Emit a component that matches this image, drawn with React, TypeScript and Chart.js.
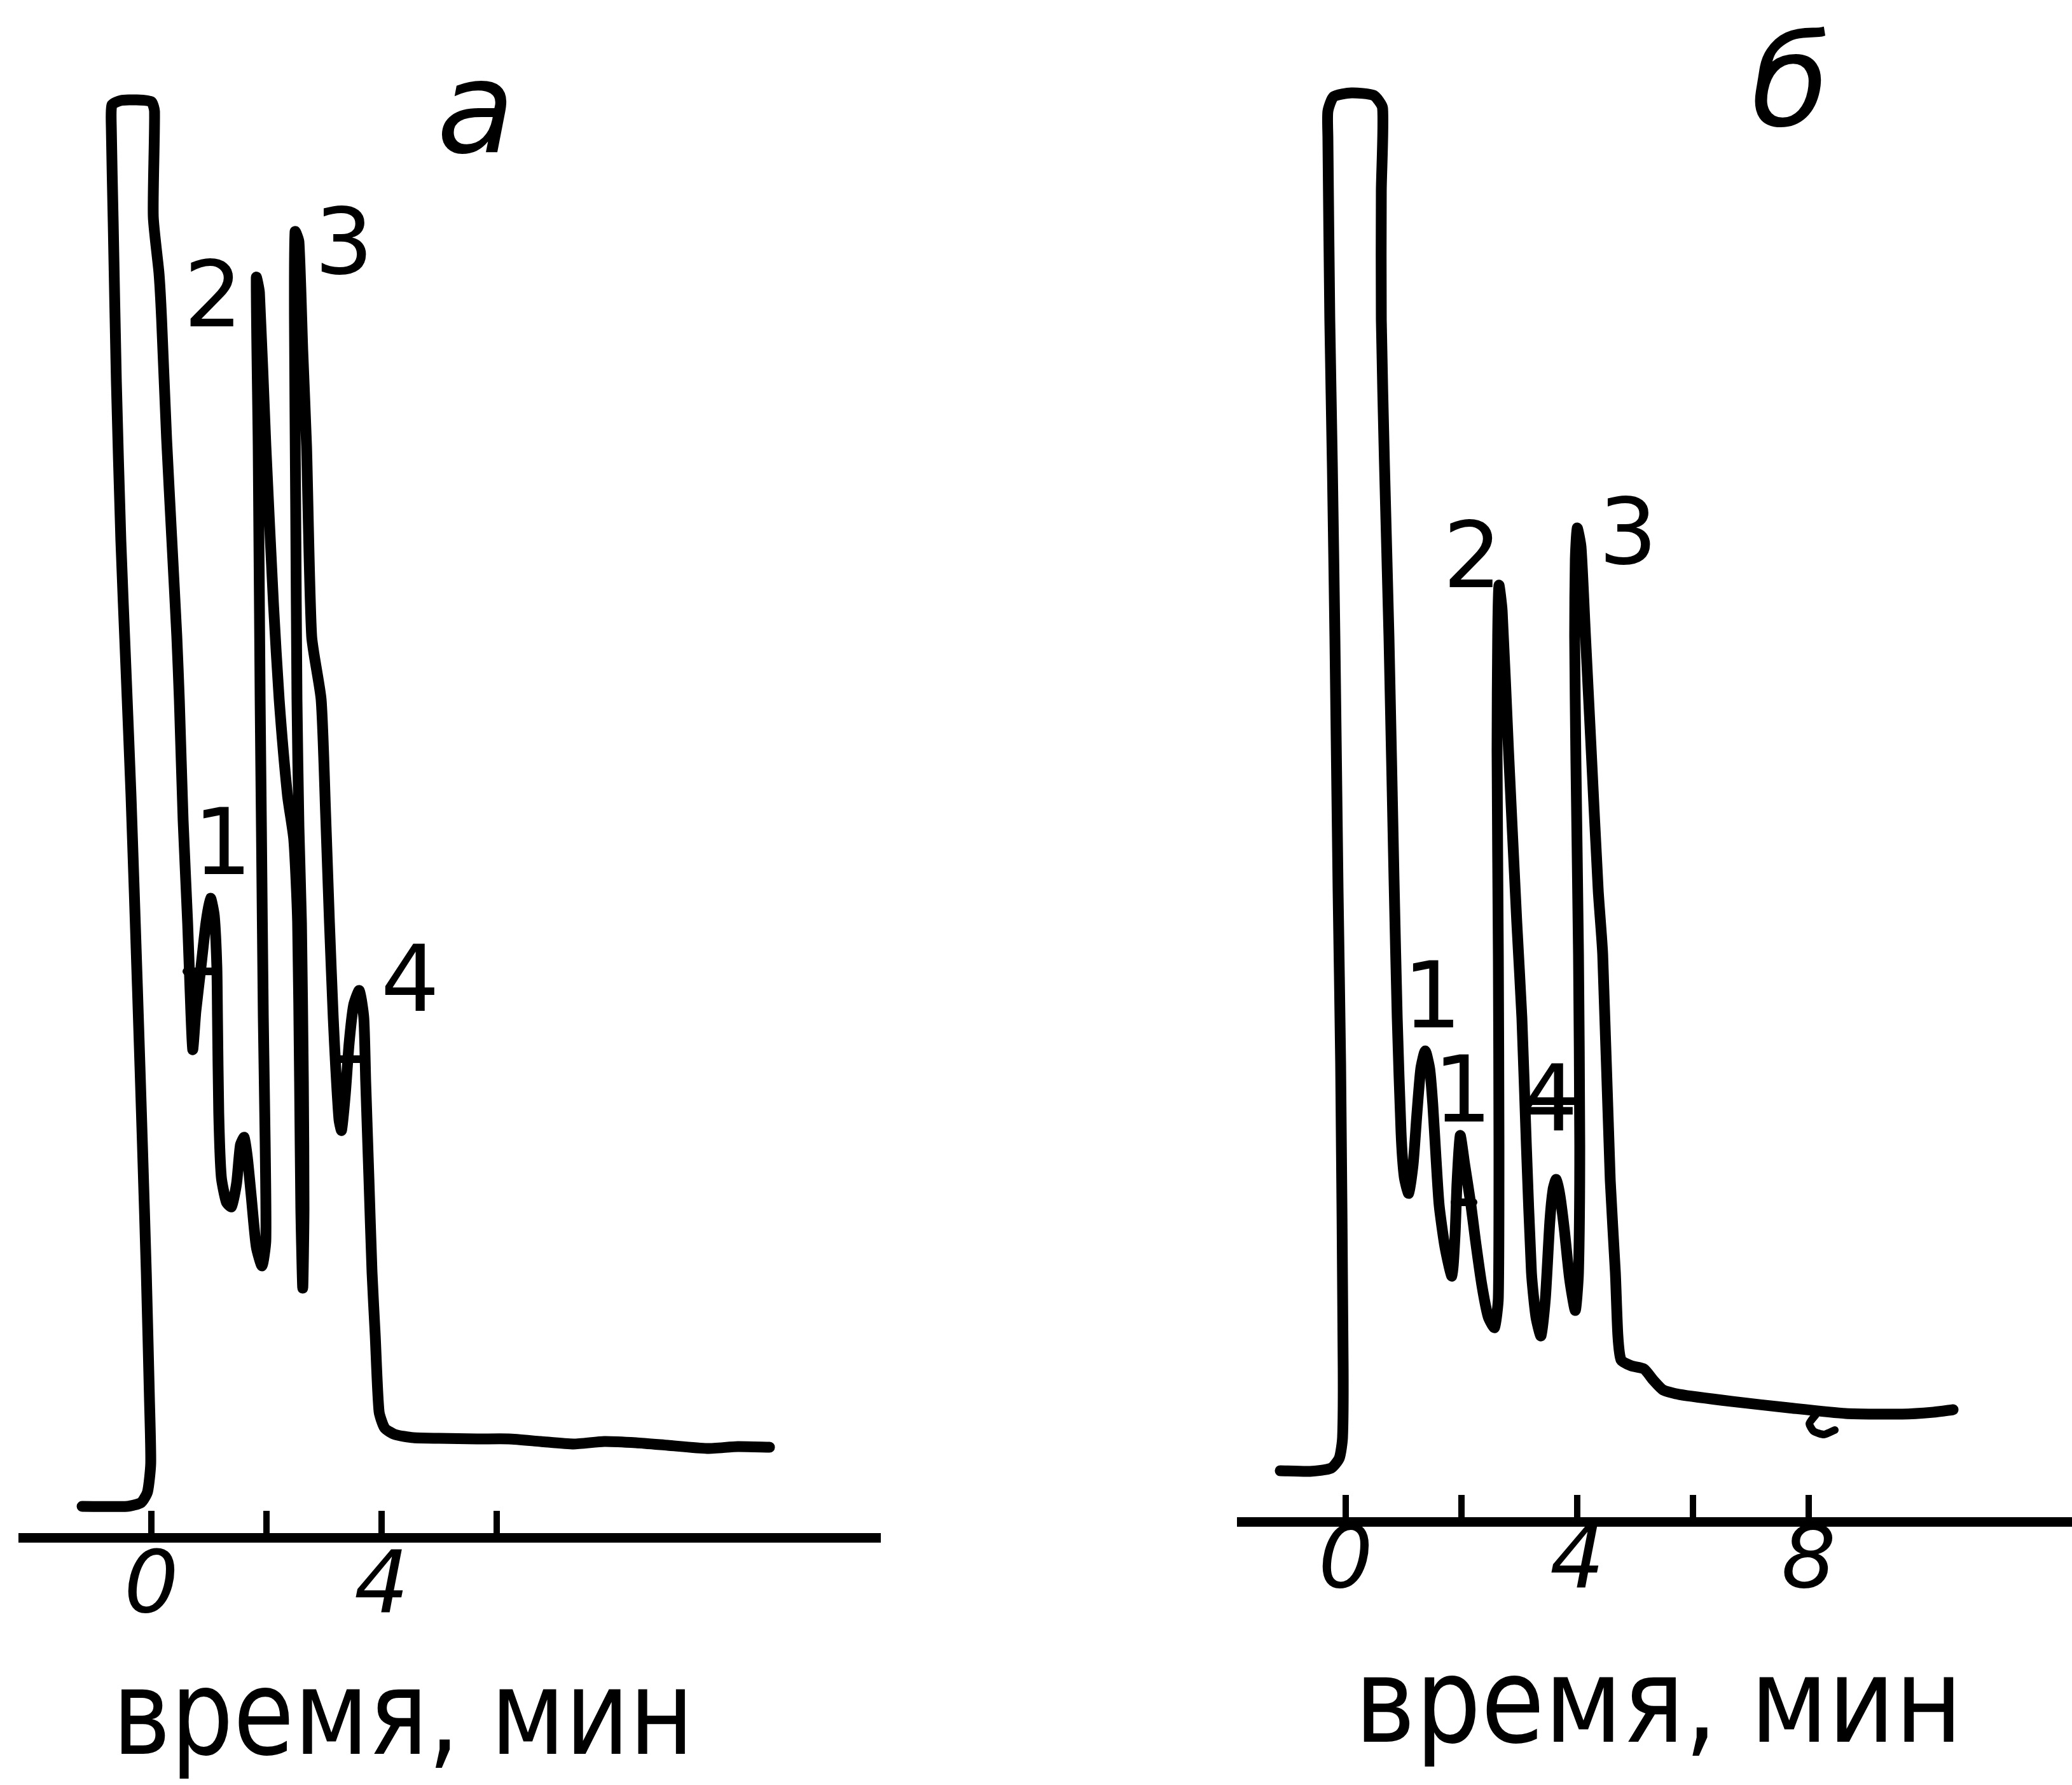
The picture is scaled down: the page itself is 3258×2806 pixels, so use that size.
import React, { useEffect, useRef } from "react";
import { Chart, registerables } from "chart.js";

Chart.register(...registerables);

// ---------- Panel а (time, min / detector signal, arb. units) ----------
const aTime = [-1.204,-0.42,-0.177,-0.066,-0.011,-0.033,-0.088,-0.155,-0.243,-0.354,
  -0.442,-0.53,-0.608,-0.663,-0.696,-0.685,-0.53,-0.254,0,0.055,
  0.033,0.133,0.177,0.265,0.354,0.442,0.486,0.552,0.63,0.674,
  0.718,0.773,0.862,0.95,1.028,1.094,1.138,1.149,1.171,1.215,
  1.304,1.392,1.481,1.547,1.613,1.669,1.735,1.823,1.923,1.989,
  1.978,1.945,1.912,1.89,1.856,1.823,1.878,1.989,2.122,2.221,
  2.365,2.475,2.541,2.575,2.597,2.63,2.652,2.641,2.608,2.564,
  2.53,2.508,2.486,2.497,2.564,2.63,2.696,2.785,2.95,3.028,
  3.094,3.16,3.204,3.26,3.304,3.37,3.436,3.514,3.613,3.691,
  3.724,3.779,3.834,3.89,3.956,4.055,4.232,4.552,5.006,5.657,
  6.21,6.762,7.337,7.867,8.42,8.972,9.657,10.188,10.74];
const aSignal = [2.45,2.45,2.75,3.6,5.85,10.85,20.85,30.85,43.35,58.35,
  68.35,78.35,90.85,103.35,110.85,112.6,112.95,113,112.85,112.1,
  103.85,99.35,95.85,86.35,78.55,70.85,65.85,56.35,48.35,42.85,
  38.35,41.35,44.85,48.35,50.25,48.85,44.85,40.85,33.35,28.35,
  26.35,26,27.85,30.85,31.45,29.85,26.85,22.85,21.35,23.35,
  30.85,40.85,55.85,65.85,85.85,99.05,97.85,85.85,73.35,65.85,
  58.35,54.85,48.35,35.85,25.85,19.6,25.85,35.85,48.35,55.85,
  65.85,80.85,95.85,102.65,101.85,93.35,85.85,70.85,65.85,56.85,
  48.35,40.85,36.85,32.85,32,34.85,38.85,41.85,43,40.85,
  35.85,28.35,20.85,15.85,9.9,8.6,8.1,7.85,7.8,7.75,
  7.75,7.55,7.35,7.55,7.45,7.25,7,7.15,7.1];
// hand-drawn peak base marks
const aMark1Time = [0.608, 1.16];
const aMark1Signal = [44.5, 44.5];
const aMark4Time = [3.171, 3.691];
const aMark4Signal = [37.6, 37.6];
const aTicks = [0, 2, 4, 6];
const aTickLabels = ["0", "", "4", ""];
const aPeakNames = ["1", "2", "3", "4"];
const aPeakTime = [1.238, 1.072, 3.348, 4.497];
const aPeakSignal = [52.15, 95.2, 99.35, 41.4];

// ---------- Panel б ----------
const bTime = [-1.132,-0.615,-0.253,-0.11,-0.055,-0.044,-0.088,-0.132,-0.187,-0.231,
  -0.275,-0.308,-0.308,-0.209,0.099,0.484,0.637,0.615,0.615,0.67,
  0.747,0.835,0.89,0.956,1.011,1.088,1.165,1.231,1.297,1.374,
  1.451,1.505,1.56,1.615,1.714,1.835,1.89,1.923,1.978,2.055,
  2.165,2.242,2.352,2.462,2.571,2.637,2.648,2.637,2.615,2.626,
  2.648,2.703,2.813,2.956,3.044,3.121,3.209,3.286,3.374,3.451,
  3.527,3.582,3.637,3.703,3.78,3.868,3.967,4.022,4.044,4.022,
  3.978,3.956,3.967,4,4.066,4.143,4.242,4.363,4.44,4.571,
  4.659,4.703,4.758,4.934,5.154,5.319,5.484,5.758,6.67,7.648,
  8.637,9.615,10.154,10.495];
const bSignal = [4,3.95,4.2,5,6.6,12.1,36.1,49.6,69.6,83.05,
  94.5,108.85,110.85,112,112.3,112.1,111.1,104.6,94.5,83.05,
  69.6,50.45,39.6,30.6,27.1,25.8,28.1,32.1,35.6,37,
  35.6,32.75,28.6,24.85,21.6,19.3,22.6,26.6,30.35,28.1,
  24.85,22.1,18.6,16.1,15.25,17.6,29.6,44.6,60.6,69.6,
  73.6,71.6,60.6,47.1,39.6,29.6,19.6,16.1,14.6,17.6,
  23.6,26.1,26.9,25.6,22.85,19.1,16.6,19.6,29.6,44.6,
  59.6,69.6,75.6,78.1,76.6,69.6,60.6,49.6,44.6,26.8,
  19.6,14.6,12.7,12.25,12,11.1,10.35,10,9.45,8.95,
  8.5,8.45,8.6,8.8];
const bMark1Time = [1.879, 2.209];
const bMark1Signal = [25.1, 25.1];
const bMark4Time = [3.121, 4.0];
const bMark4Signal = [33.05, 33.05];
const bHookTime = [8.121, 8.011, 8.088, 8.264, 8.451];
const bHookSignal = [8.4, 7.7, 7.1, 6.85, 7.2];
const bTicks = [0, 2, 4, 6, 8];
const bTickLabels = ["0", "", "4", "", "8"];
const bPeakNames = ["1", "1", "2", "3", "4"];
const bPeakTime = [1.495, 2.022, 2.187, 4.879, 3.505];
const bPeakSignal = [38.85, 31.45, 73.45, 75.3, 30.75];

const panelLetters = ["а", "б"];
const panelLetterTime = [5.635, 7.681];
const panelLetterSignal = [108.9, 109.75];
const axisTitle = "время, мин";

const FONT = '"DejaVu Sans", "Noto Sans", sans-serif';

const zip = (xs: number[], ys: number[]) => xs.map((x, i) => ({ x, y: ys[i] }));

const annotate = {
  id: "annotate",
  afterDraw(chart: any, _args: any, opts: any) {
    const { ctx } = chart;
    const x = chart.scales.x;
    const y = chart.scales.y;
    ctx.save();
    // upward tick marks on the time axis
    ctx.strokeStyle = "#000";
    ctx.lineWidth = 10;
    for (const t of opts.ticks) {
      const px = x.getPixelForValue(t);
      ctx.beginPath();
      ctx.moveTo(px, x.top);
      ctx.lineTo(px, x.top - 42);
      ctx.stroke();
    }
    ctx.fillStyle = "#000";
    ctx.textAlign = "center";
    ctx.textBaseline = "alphabetic";
    // peak numbers
    ctx.font = `normal 145px ${FONT}`;
    opts.names.forEach((n: string, i: number) => {
      ctx.fillText(n, x.getPixelForValue(opts.times[i]), y.getPixelForValue(opts.signals[i]));
    });
    // panel letter
    ctx.font = `italic 200px ${FONT}`;
    ctx.fillText(opts.letter, x.getPixelForValue(opts.letterT), y.getPixelForValue(opts.letterV));
    // axis title
    ctx.font = `normal 185px ${FONT}`;
    const w = ctx.measureText(axisTitle).width;
    ctx.translate(opts.titleX, opts.titleY);
    ctx.scale(opts.titleWidth / w, 1);
    ctx.fillText(axisTitle, 0, 0);
    ctx.restore();
  },
};

function makeConfig(p: any) {
  const line = (data: any[], width: number) => ({
    data,
    showLine: true,
    borderColor: "#000",
    borderWidth: width,
    pointRadius: 0,
    tension: 0.2,
    borderJoinStyle: "round",
    borderCapStyle: "round",
    fill: false,
  });
  return {
    type: "scatter",
    data: { datasets: p.series.map((s: any[], i: number) => line(s, i === 0 ? 17 : 12)) },
    plugins: [annotate],
    options: {
      animation: false,
      responsive: false,
      events: [],
      layout: { autoPadding: false, padding: p.padding },
      plugins: {
        legend: { display: false },
        tooltip: { enabled: false },
        annotate: p.annotate,
      },
      scales: {
        x: {
          type: "linear",
          position: "bottom",
          min: p.xMin,
          max: p.xMax,
          afterBuildTicks: (scale: any) => {
            scale.ticks = p.ticks.map((v: number) => ({ value: v }));
          },
          afterFit: (scale: any) => {
            scale.height = p.axisHeight;
          },
          grid: { display: false, drawTicks: false },
          border: { display: true, color: "#000", width: 15 },
          ticks: {
            autoSkip: false,
            maxRotation: 0,
            padding: p.tickPadding,
            color: "#000",
            font: { family: FONT, size: 135, style: "italic", lineHeight: 1 },
            callback: (v: number) => {
              const i = p.ticks.indexOf(v);
              return i >= 0 ? p.tickLabels[i] : "";
            },
          },
        },
        y: { display: false, min: 0, max: p.yMax },
      },
    },
  };
}

export default function App() {
  const refA = useRef<HTMLCanvasElement>(null);
  const refB = useRef<HTMLCanvasElement>(null);

  useEffect(() => {
    const a = new Chart(refA.current as any, makeConfig({
      series: [zip(aTime, aSignal), zip(aMark1Time, aMark1Signal), zip(aMark4Time, aMark4Signal)],
      padding: { left: 36, right: 216, top: 17, bottom: 0 },
      xMin: -2.232, xMax: 12.663, yMax: 120,
      axisHeight: 389, tickPadding: 14,
      ticks: aTicks, tickLabels: aTickLabels,
      annotate: {
        ticks: aTicks, names: aPeakNames, times: aPeakTime, signals: aPeakSignal,
        letter: panelLetters[0], letterT: panelLetterTime[0], letterV: panelLetterSignal[0],
        titleX: 634, titleY: 2757, titleWidth: 914,
      },
    }) as any);
    const b = new Chart(refB.current as any, makeConfig({
      series: [zip(bTime, bSignal), zip(bMark1Time, bMark1Signal), zip(bMark4Time, bMark4Signal), zip(bHookTime, bHookSignal)],
      padding: { left: 352, right: 0, top: 32, bottom: 0 },
      xMin: -1.802, xMax: 12.549, yMax: 118,
      axisHeight: 414, tickPadding: 0,
      ticks: bTicks, tickLabels: bTickLabels,
      annotate: {
        ticks: bTicks, names: bPeakNames, times: bPeakTime, signals: bPeakSignal,
        letter: panelLetters[1], letterT: panelLetterTime[1], letterV: panelLetterSignal[1],
        titleX: 1008, titleY: 2738, titleWidth: 956,
      },
    }) as any);
    return () => {
      a.destroy();
      b.destroy();
    };
  }, []);

  return (
    <div style={{ position: "absolute", left: 0, top: 0, width: 3258, height: 2806, background: "#fff", overflow: "hidden" }}>
      <canvas ref={refA} width={1600} height={2806} style={{ position: "absolute", left: 0, top: 0, width: 1600, height: 2806 }} />
      <canvas ref={refB} width={1658} height={2806} style={{ position: "absolute", left: 1600, top: 0, width: 1658, height: 2806 }} />
    </div>
  );
}
